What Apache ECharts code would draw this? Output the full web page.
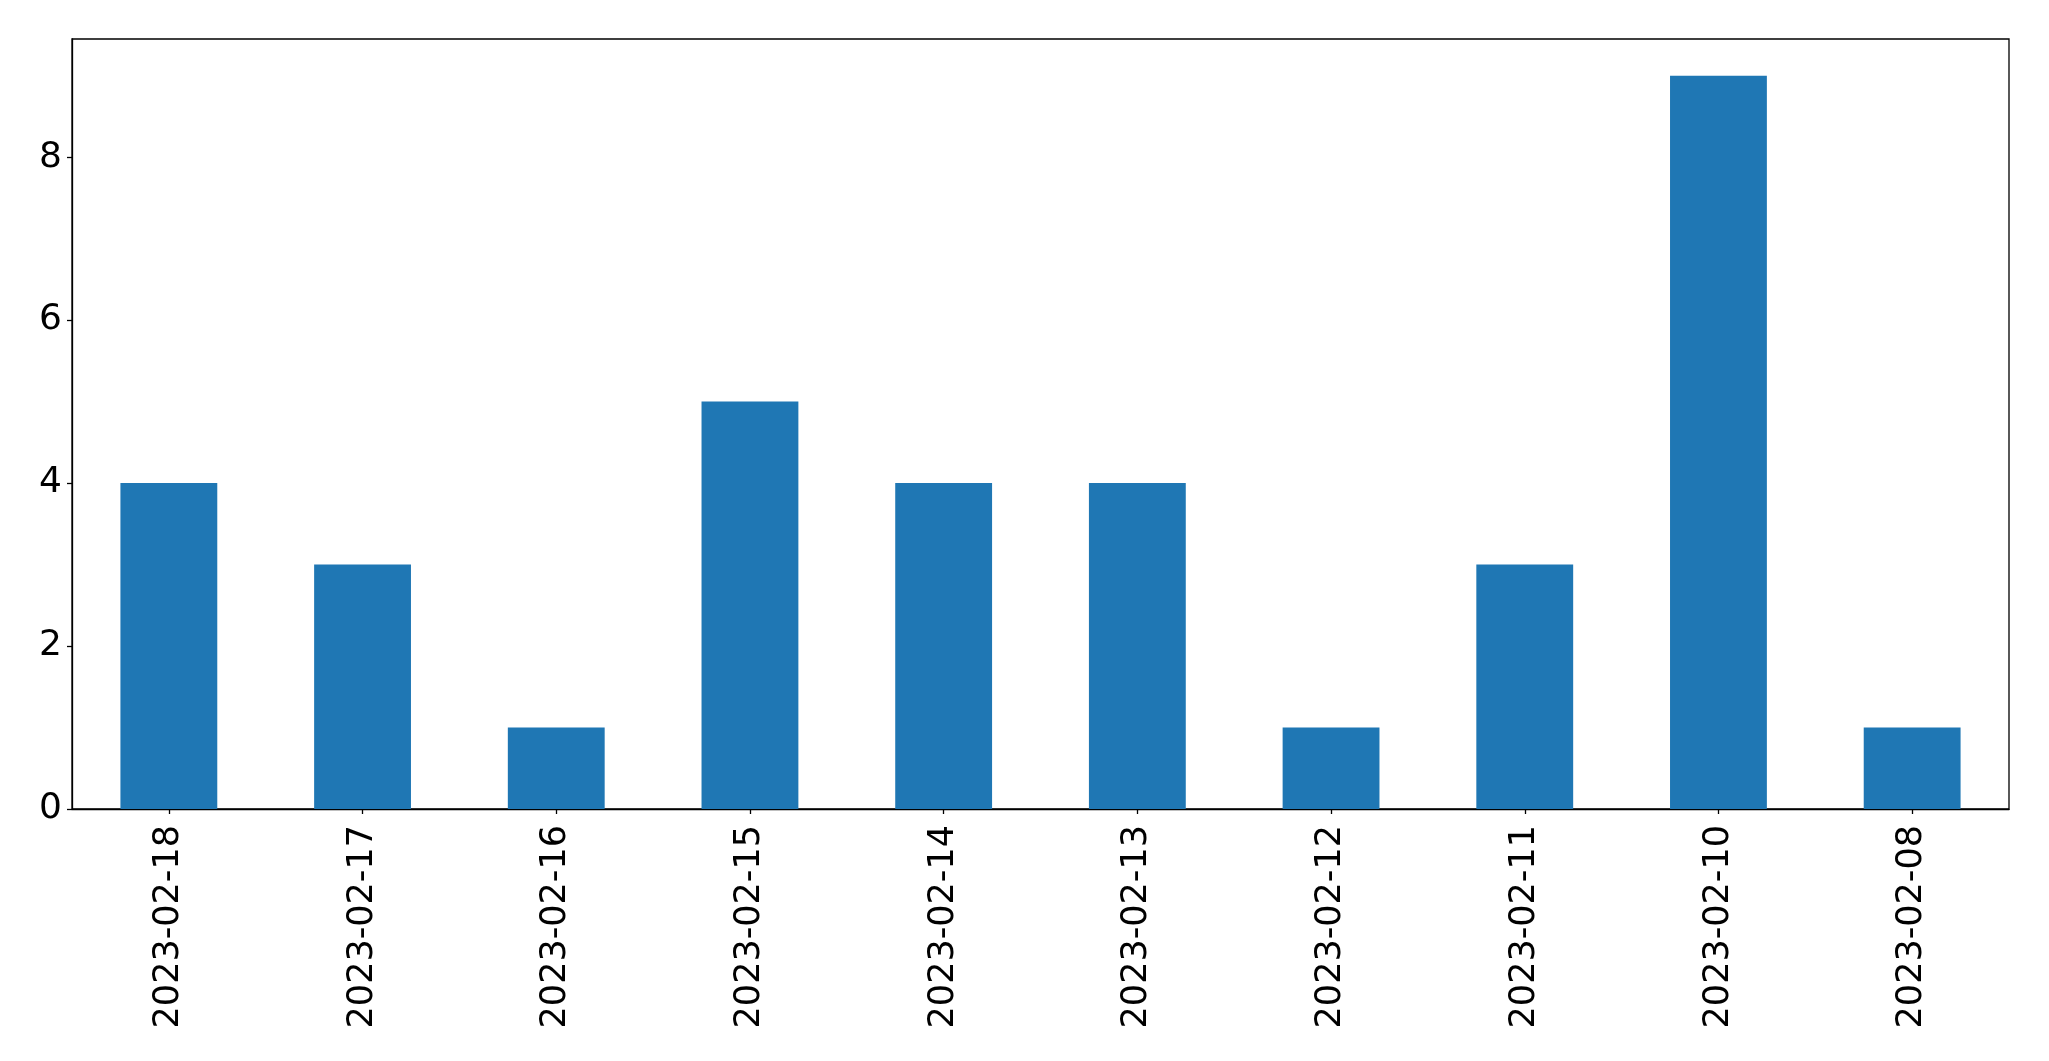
<!DOCTYPE html>
<html>
<head>
<meta charset="utf-8">
<script src="https://cdn.jsdelivr.net/npm/echarts@6/dist/echarts.min.js"></script>
<style>html,body{margin:0;padding:0;background:#fff;}#c{width:2049px;height:1061px;}</style>
</head>
<body>
<div id="c"></div>
<script>
const categories = ['2023-02-18','2023-02-17','2023-02-16','2023-02-15','2023-02-14','2023-02-13','2023-02-12','2023-02-11','2023-02-10','2023-02-08'];
const values = [4, 3, 1, 5, 4, 4, 1, 3, 9, 1];
const yTicks = [0, 2, 4, 6, 8];

const chart = echarts.init(document.getElementById('c'), null, {renderer: 'canvas'});
const font = 'DejaVu Sans';
chart.setOption({
  animation: false,
  backgroundColor: '#ffffff',
  grid: {left: 72, top: 39, right: 40, bottom: 252, show: true, borderColor: '#000', borderWidth: 1.3, backgroundColor: 'transparent'},
  xAxis: {
    type: 'category',
    data: categories,
    boundaryGap: true,
    axisLine: {show: true, lineStyle: {color: '#000', width: 1.3}},
    axisTick: {show: true, alignWithLabel: true, length: 5, lineStyle: {color: '#000', width: 1.3}},
    axisLabel: {rotate: 90, margin: 16, color: '#000', fontSize: 35, fontFamily: font, interval: 0}
  },
  yAxis: {
    type: 'value',
    min: 0, max: 9.45, interval: 2,
    splitLine: {show: false},
    axisLine: {show: true, lineStyle: {color: '#000', width: 1.3}},
    axisTick: {show: true, length: 5, customValues: yTicks, lineStyle: {color: '#000', width: 1.3}},
    axisLabel: {margin: 10, color: '#000', fontSize: 36, fontFamily: font, customValues: yTicks,
      padding: [7, 0, 0, 0], formatter: v => String(v)}
  },
  series: [{
    type: 'bar',
    data: values,
    barWidth: '50%',
    itemStyle: {color: '#1f77b4'}
  }]
});
</script>
</body>
</html>
